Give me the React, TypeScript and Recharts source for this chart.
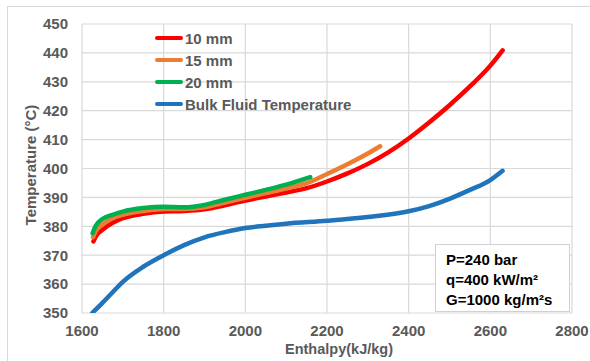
import { LineChart, Line, XAxis, YAxis, CartesianGrid } from 'recharts';

// enthalpy (kJ/kg) and wall temperature (°C) for each tube diameter
const h10 = [1628, 1635, 1650, 1675, 1700, 1750, 1800, 1850, 1900, 1950, 2000, 2050, 2100, 2150, 2200, 2250, 2300, 2350, 2400, 2450, 2500, 2550, 2600, 2630];
const t10 = [374.8, 376.8, 378.8, 381.2, 382.8, 384.3, 385.1, 385.3, 385.9, 387.3, 388.9, 390.3, 391.7, 393.2, 395.5, 398.3, 401.6, 405.6, 410.4, 415.9, 421.9, 428.4, 435.6, 440.9];

const h15 = [1627, 1634, 1650, 1675, 1700, 1750, 1800, 1850, 1900, 1950, 2000, 2050, 2100, 2150, 2200, 2250, 2300, 2330];
const t15 = [376.2, 378.4, 380.6, 382.8, 384, 385.3, 386, 386, 386.6, 388.2, 389.9, 391.5, 393.1, 394.9, 398.1, 401.5, 405.2, 407.7];

const h20 = [1626, 1633, 1650, 1675, 1700, 1750, 1800, 1850, 1900, 1950, 2000, 2050, 2100, 2159];
const t20 = [377.6, 380, 382.5, 384, 385.1, 386.3, 386.8, 386.6, 387.4, 389.2, 390.9, 392.6, 394.4, 397];

const hBulk = [1625, 1650, 1675, 1700, 1750, 1800, 1850, 1900, 1950, 2000, 2050, 2100, 2200, 2300, 2400, 2450, 2500, 2550, 2600, 2630];
const tBulk = [350, 353.5, 357.2, 360.8, 366, 370, 373.5, 376.2, 378, 379.4, 380.2, 380.9, 381.9, 383.2, 385.2, 387, 389.5, 392.6, 396, 399.2];

const xTicks = [1600, 1800, 2000, 2200, 2400, 2600, 2800];
const yTicks = [350, 360, 370, 380, 390, 400, 410, 420, 430, 440, 450];

const notes = ['P=240 bar', 'q=400 kW/m²', 'G=1000 kg/m²s'];

const toRows = (h: number[], t: number[]) => h.map((x, i) => ({ h: x, t: t[i] }));

const series = [
  { name: '10 mm', color: '#FF0000', data: toRows(h10, t10) },
  { name: '15 mm', color: '#ED7D31', data: toRows(h15, t15) },
  { name: '20 mm', color: '#00B050', data: toRows(h20, t20) },
  { name: 'Bulk Fluid Temperature', color: '#1F74BC', data: toRows(hBulk, tBulk) },
];

const FONT = 'Arial, "Liberation Sans", sans-serif';
const tickStyle = { fontSize: 15, fontWeight: 700, fill: '#595959', fontFamily: FONT };

function LegendBox() {
  return (
    <div
      style={{
        position: 'absolute', left: 155, top: 27, fontFamily: FONT, fontSize: 15, fontWeight: 700,
        color: '#595959', whiteSpace: 'nowrap',
      }}
    >
      {series.map(s => (
        <div key={s.name} style={{ display: 'flex', alignItems: 'center', height: 22 }}>
          <span style={{ width: 28, height: 4, borderRadius: 2, background: s.color, marginRight: 2 }} />
          <span>{s.name}</span>
        </div>
      ))}
    </div>
  );
}

export default function App() {
  return (
    <div style={{ position: 'absolute', left: 0, top: 0, width: 590, height: 361, background: '#fff', overflow: 'hidden' }}>
      <div style={{ position: 'absolute', left: 7, top: 6, width: 600, height: 400, border: '1px solid #d9d9d9' }} />
      <LineChart width={590} height={361} margin={{ top: 24, right: 18, bottom: 18, left: 22 }}>
        <CartesianGrid stroke="#d9d9d9" strokeWidth={1.2} />
        <XAxis
          type="number"
          dataKey="h"
          domain={[1600, 2800]}
          ticks={xTicks}
          axisLine={false}
          tickLine={false}
          tickSize={0}
          tickMargin={12}
          height={30}
          tick={tickStyle}
          allowDataOverflow
        />
        <YAxis
          type="number"
          dataKey="t"
          domain={[350, 450]}
          ticks={yTicks}
          axisLine={false}
          tickLine={false}
          tickSize={0}
          tickMargin={14}
          width={60}
          tick={tickStyle}
          allowDataOverflow
        />
        {series.map(s => (
          <Line
            key={s.name}
            name={s.name}
            data={s.data}
            dataKey="t"
            type="monotone"
            stroke={s.color}
            strokeWidth={4.5}
            strokeLinecap="round"
            dot={false}
            activeDot={false}
            isAnimationActive={false}
          />
        ))}
      </LineChart>
      <LegendBox />
      <div
        style={{
          position: 'absolute', left: 339, top: 341, transform: 'translateX(-50%)', whiteSpace: 'nowrap',
          fontFamily: FONT, fontSize: 14.5, fontWeight: 700, color: '#595959',
        }}
      >
        Enthalpy(kJ/kg)
      </div>
      <div
        style={{
          position: 'absolute', left: 30, top: 165, transform: 'translate(-50%, -50%) rotate(-90deg)', whiteSpace: 'nowrap',
          fontFamily: FONT, fontSize: 15, fontWeight: 700, color: '#595959',
        }}
      >
        Temperature (°C)
      </div>
      <div
        style={{
          position: 'absolute', left: 435, top: 244, width: 135, height: 68, background: '#fff',
          border: '1px solid #d0d0d0', fontFamily: FONT, fontSize: 15, fontWeight: 700, color: '#000',
          paddingLeft: 10, paddingTop: 5, boxSizing: 'border-box', lineHeight: '20px',
        }}
      >
        {notes.map(n => <div key={n}>{n}</div>)}
      </div>
    </div>
  );
}
